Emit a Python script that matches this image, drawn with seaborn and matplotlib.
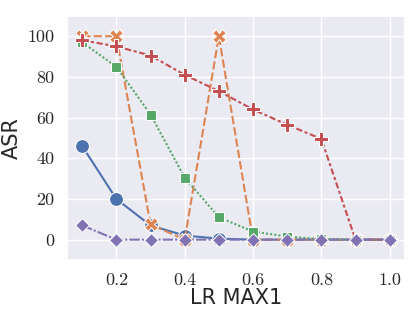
import matplotlib
matplotlib.use("Agg")
import matplotlib.pyplot as plt
import numpy as np
import pandas as pd
import seaborn as sns

lr = [0.1, 0.2, 0.3, 0.4, 0.5, 0.6, 0.7, 0.8, 0.9, 1.0]
asr_a = [46, 20, 7, 2, 0.5, 0, 0, 0, 0, 0]
asr_b = [100, 100, 7.5, 0, 100, 0, 0, 0, 0, 0]
asr_c = [97, 85, 61.5, 30.5, 11, 4, 1.5, 0.3, 0, 0]
asr_d = [98, 95, 90.5, 81, 73, 64, 56.5, 49.5, 0, 0]
asr_e = [7, 0, 0, 0, 0, 0, 0, 0, 0, 0]
names = ["a", "b", "c", "d", "e"]

rows = []
for name, vals in zip(names, [asr_a, asr_b, asr_c, asr_d, asr_e]):
    for x, y in zip(lr, vals):
        rows.append({"lr": x, "asr": y, "method": name})
df = pd.DataFrame(rows)

sns.set_theme(style="darkgrid")
plt.rcParams["axes.unicode_minus"] = False

fig = plt.figure(figsize=(4.15, 3.11), dpi=100)
ax = fig.add_axes([0.161, 0.164, 0.815, 0.785])
sns.lineplot(data=df, x="lr", y="asr", hue="method", style="method",
             markers=True, dashes=True, markersize=10, linewidth=1.5,
             legend=False, ax=ax)
ax.set_ylim(-10, 110)
ax.set_yticks([0, 20, 40, 60, 80, 100])
ax.set_xticks([0.2, 0.4, 0.6, 0.8, 1.0])
ax.set_xlabel("LR MAX1", fontsize=15, labelpad=0)
ax.set_ylabel("ASR", fontsize=15, labelpad=4)
for lab in ax.get_xticklabels() + ax.get_yticklabels():
    lab.set_fontfamily("cmr10")
    lab.set_fontsize(13)
ax.tick_params(pad=3)

fig.savefig("out.png", dpi=100)
